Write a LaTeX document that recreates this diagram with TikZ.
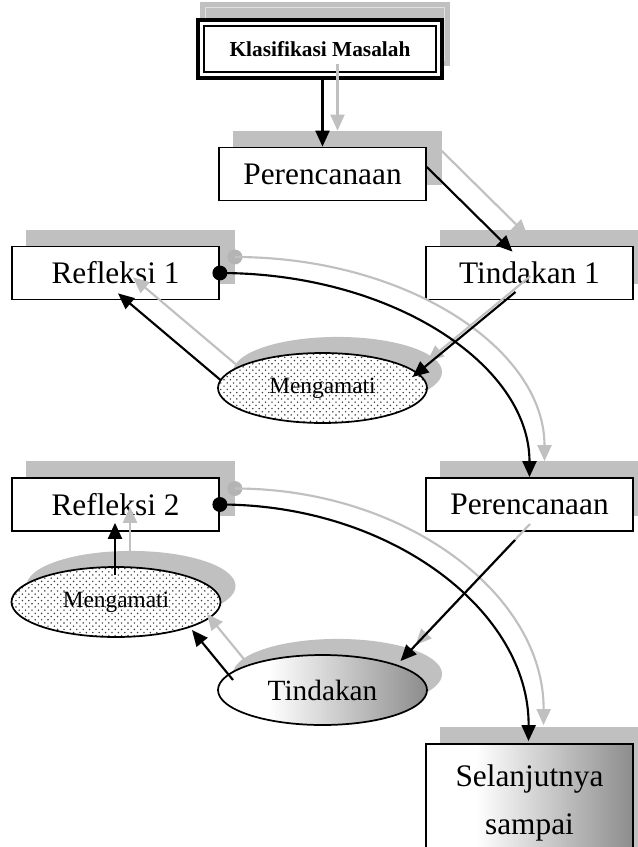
\documentclass[tikz,border=0pt]{standalone}
\usepackage{fontspec}
\setmainfont{Liberation Serif}
\usetikzlibrary{arrows.meta,calc,shapes.geometric,patterns}
\pgfdeclarelayer{bg}
\pgfsetlayers{bg,main}
\definecolor{shgrey}{HTML}{C0C0C0}
\definecolor{dotgrey}{HTML}{B4B4B4}
\pgfdeclarepatternformonly{mydots}{\pgfpoint{-1pt}{-1pt}}{\pgfpoint{4.5pt}{4.5pt}}{\pgfpoint{4.8pt}{4.8pt}}{%
  \pgfpathcircle{\pgfpoint{0pt}{0pt}}{0.6pt}%
  \pgfpathcircle{\pgfpoint{2.4pt}{2.4pt}}{0.6pt}%
  \pgfusepath{fill}}
\pgfdeclarehorizontalshading{tshade}{100bp}{color(0bp)=(white); color(37bp)=(white); color(75bp)=(black!45); color(100bp)=(black!45)}
\pgfdeclarehorizontalshading{sshade}{100bp}{color(0bp)=(white); color(37bp)=(white); color(75bp)=(black!45); color(100bp)=(black!45)}
\begin{document}
\begin{tikzpicture}[x=0.75pt,y=-0.75pt,
  box/.style={draw,line width=1.3pt,fill=white,minimum width=155.25pt,minimum height=39.75pt,inner sep=0pt,font=\fontsize{23.5}{28}\selectfont},
  ell/.style={ellipse,draw,line width=1.3pt,minimum width=156.75pt,minimum height=52.5pt,inner sep=0pt},
  con/.style={line width=1.6pt,-{Triangle[length=12pt,width=10.5pt]}},
  shcon/.style={con,draw=shgrey,transform canvas={shift={(15,-16)}}},
  shfill/.style={fill=dotgrey,transform canvas={shift={(15,-16)}}}]
\path[use as bounding box] (0,0) rectangle (637,847);

% nodes
\node[draw,line width=3.2pt,fill=white,minimum width=183pt,minimum height=43.5pt,inner sep=0pt,
      font=\bfseries\fontsize{16}{19}\selectfont] (k) at (320,49) {Klasifikasi Masalah};
\node[box] (p1) at (322.5,174) {Perencanaan};
\node[box] (r1) at (115.5,273) {Refleksi 1};
\node[box] (t1) at (529.5,273) {Tindakan 1};
\node[box] (r2) at (115.5,504.5) {Refleksi 2};
\node[box] (p2) at (529.5,504.5) {Perencanaan};
\node[box,shading=sshade,minimum height=88.5pt,align=center,font=\fontsize{23.5}{36}\selectfont] (s) at (529.5,803) {Selanjutnya\\sampai};
\node[ell,preaction={fill=white},pattern=mydots,pattern color=black!80,font=\fontsize{17.5}{20}\selectfont] (m1) at (322.5,388) {Mengamati};
\node[ell,preaction={fill=white},pattern=mydots,pattern color=black!80,font=\fontsize{17.5}{20}\selectfont] (m2) at (116,602) {Mengamati};
\node[ell,shading=tshade,font=\fontsize{22}{26}\selectfont] (tt) at (322.5,690) {Tindakan};

% inner thin frame of the title box
\draw[line width=1pt] ($(k.north west)+(8,8)$) rectangle ($(k.south east)+(-8,-8)$);

% shadows of boxes and ellipses
\begin{pgfonlayer}{bg}
  \fill[white] (0,0) rectangle (637,847);
  \fill[shgrey] ($(k.north west)+(4,-16)$) rectangle ($(k.south east)+(6,-14)$);
  \draw[white!88!black,line width=0.8pt] ($(k.north west)+(10,-10)$) rectangle ($(k.south east)+(0,-20)$);
  \foreach \n in {p1,r1,t1,r2,p2,s}
    \fill[shgrey] ($(\n.south west)+(15,-16)$) rectangle ($(\n.north east)+(15,-16)$);
  \foreach \n in {m1,m2,tt}
    \fill[shgrey] ($(\n.center)+(15,-16)$) ellipse [x radius=78.4pt, y radius=26.3pt];
\end{pgfonlayer}

% shadow connectors
\draw[shcon] (p1.north |- k.south) -- (p1.north);
\draw[shcon] ($(p1.east)+(0,-7)$) -- ($(t1.north)+(-17,6)$);
\draw[shcon] ($(t1.center)+(-14,19)$) -- ($(m1.center)+(90,-11)$);
\draw[shcon] ($(m1.center)+(-102,-8)$) -- ($(r1.south)+(2.5,-7)$);
\fill[shfill] (r1.east) circle[radius=5.6pt];
\draw[shcon] (r1.east) .. controls +(171,0) and ($(p2.north)+(0,-113)$) .. (p2.north);
\draw[shcon] ($(p2.center)+(-14.5,35.5)$) -- ($(tt.center)+(78,-29)$);
\draw[shcon] ($(tt.center)+(-89.5,-10)$) -- ($(m2.center)+(76,28)$);
\draw[shcon] ($(m2.center)+(-1,-27)$) -- ($(r2.south)+(-0.5,-9)$);
\fill[shfill] (r2.east) circle[radius=5.6pt];
\draw[shcon] (r2.east) .. controls +(171,0) and ($(s.north)+(0,-132)$) .. ($(s.north)+(-1,-2)$);

% black connectors
\draw[con] (p1.north |- k.south) -- (p1.north);
\draw[con] ($(p1.east)+(0,-7)$) -- ($(t1.north)+(-17,6)$);
\draw[con] ($(t1.center)+(-14,19)$) -- ($(m1.center)+(90,-11)$);
\draw[con] ($(m1.center)+(-102,-8)$) -- ($(r1.south)+(2.5,-7)$);
\fill (r1.east) circle[radius=5.6pt];
\draw[con] (r1.east) .. controls +(171,0) and ($(p2.north)+(0,-113)$) .. (p2.north);
\draw[con] ($(p2.center)+(-14.5,35.5)$) -- ($(tt.center)+(78,-29)$);
\draw[con] ($(tt.center)+(-89.5,-10)$) -- ($(m2.center)+(76,28)$);
\draw[con] ($(m2.center)+(-1,-27)$) -- ($(r2.south)+(-0.5,-9)$);
\fill (r2.east) circle[radius=5.6pt];
\draw[con] (r2.east) .. controls +(171,0) and ($(s.north)+(0,-132)$) .. ($(s.north)+(-1,-2)$);
\end{tikzpicture}
\end{document}
